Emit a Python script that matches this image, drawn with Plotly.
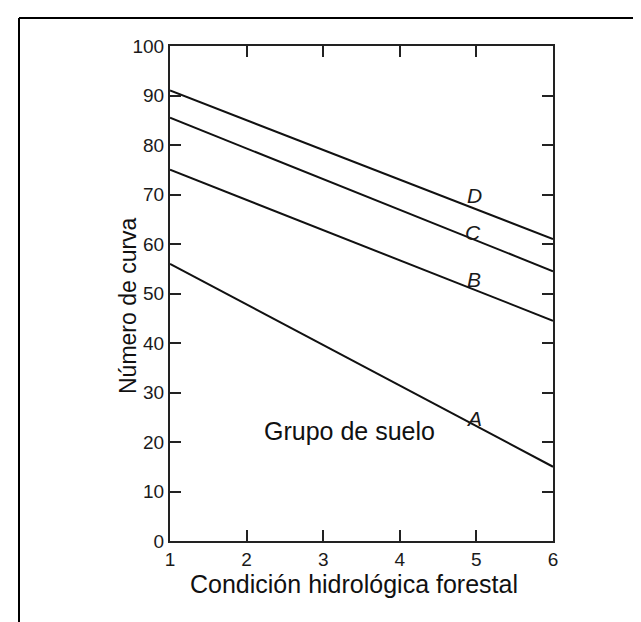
import plotly.graph_objects as go

# ---- data ----
condition = [1, 6]                      # Condición hidrológica forestal (x)
groups = ["A", "B", "C", "D"]           # Grupo de suelo
cn_at_1 = [56, 75, 85.5, 91]            # Número de curva at condition 1
cn_at_6 = [15, 44.5, 54.5, 61]          # Número de curva at condition 6
label_x = [4.97, 4.97, 4.95, 4.97]      # where each group letter is written
label_y = [24.8, 52.8, 62.3, 69.8]
x_ticks = [1, 2, 3, 4, 5, 6]
y_ticks = [0, 10, 20, 30, 40, 50, 60, 70, 80, 90, 100]

W, H = 641, 622
L, R, T, B = 162, 545, 38, 533

fig = go.Figure()
for g, y0, y1 in zip(groups, cn_at_1, cn_at_6):
    fig.add_trace(go.Scatter(x=condition, y=[y0, y1], mode="lines",
                             line=dict(color="#111111", width=2),
                             name=g, showlegend=False, hoverinfo="skip"))

for g, lx, ly in zip(groups, label_x, label_y):
    fig.add_annotation(x=lx, y=ly, xref="x", yref="y", text="<i>%s</i>" % g,
                       showarrow=False,
                       font=dict(family="Liberation Sans", size=21, color="#1a1a1a"))

fig.add_annotation(x=3.34, y=22.2, xref="x", yref="y", text="Grupo de suelo",
                   showarrow=False,
                   font=dict(family="Liberation Sans", size=25, color="#111111"))

def px(xp):
    return (xp - L) / (R - L)

def py(yp):
    return (B - yp) / (B - T)

fig.add_annotation(x=px(105), y=py(298), xref="paper", yref="paper",
                   text="Número de curva", textangle=-90, showarrow=False,
                   font=dict(family="Liberation Sans", size=23, color="#111111"))
fig.add_annotation(x=px(346), y=py(592), xref="paper", yref="paper",
                   text="Condición hidrológica forestal", showarrow=False,
                   font=dict(family="Liberation Sans", size=25, color="#111111"))

# outer frame (left and top edges visible)
fig.add_shape(type="line", xref="paper", yref="paper",
              x0=px(11), y0=py(10), x1=px(W + 5), y1=py(10),
              line=dict(color="#000000", width=2))
fig.add_shape(type="line", xref="paper", yref="paper",
              x0=px(11), y0=py(10), x1=px(11), y1=py(H + 5),
              line=dict(color="#000000", width=2))

axis_common = dict(showline=True, linecolor="#222222", linewidth=2, mirror="allticks",
                   ticks="inside", ticklen=11, tickwidth=2, tickcolor="#222222",
                   showgrid=False, zeroline=False,
                   tickfont=dict(family="Liberation Sans", size=19, color="#1a1a1a"))

fig.update_xaxes(range=[1, 6], tickvals=x_ticks, **axis_common)
fig.update_yaxes(range=[0, 100], tickvals=y_ticks, **axis_common)

fig.update_layout(width=W, height=H, autosize=False,
                  margin=dict(l=L, r=W - R, t=T, b=H - B, pad=0),
                  plot_bgcolor="white", paper_bgcolor="white",
                  showlegend=False)

fig.write_html("out.html")
